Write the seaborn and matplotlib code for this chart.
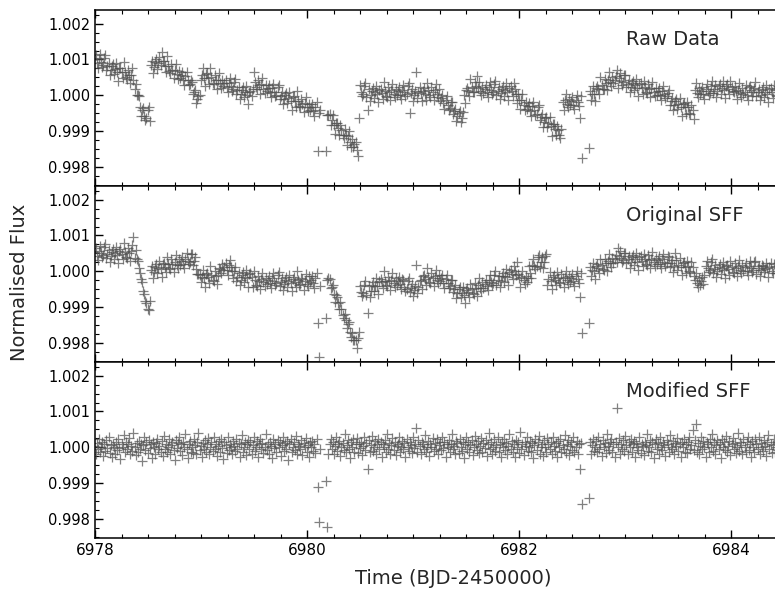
import numpy as np
import pandas as pd
import matplotlib
matplotlib.use("Agg")
import matplotlib.pyplot as plt
from matplotlib.ticker import MultipleLocator, AutoMinorLocator, FormatStrFormatter
import seaborn as sns

# ---------------- data (flux deviations from 1.0, in units of 1e-5) ----------------
t_start = 6977.995          # BJD-2450000 of first sample
cadence = 0.010215          # sampling step (days)

raw_dev = [
    # 0-51
    103, 113, 91, 77, 102, 115, 93, 80, 85, 104,
    112, 72, 81, 91, 56, 71, 83, 88, 60, 73,
    91, 66, 41, 75, 77, 64, 47, 92, 65, 50,
    46, 72, 57, 33, 58, 75,
    42, 19, 31, 2, 0, -1, -33, -58, -42,
    -36, -57, -68, -62, -41, -32, -71,
    # 52-97
    84, 95, 62, 79, 92, 100, 73, 89,
    108, 85, 120, 95, 97, 83, 65, 110, 82, 67,
    62, 87, 72, 47, 72, 88, 59, 46, 68, 49,
    57, 66, 44, 29, 54, 66, 43, 30, 31,
    42, 38, 3, 9, 16, -22, -11, -2, 0,
    # 98-145
    43, 57,
    75, 49, 25, 59, 62, 48, 31, 77, 50, 35,
    31, 57, 43, 19, 44, 61, 33, 21, 43, 25,
    34, 44, 23, 8, 34, 47, 25, 12, 17, 37,
    45, 4, 14, 24, -10, 5, 16, 22, -6, 8,
    25, 0, -24, 10, 12, -1,
    # 146-205
    18, 64, 36, 22,
    18, 44, 29, 5, 31, 47, 19, 7, 29, 11,
    20, 30, 8, -6, 20, 32, 10, -2, 2, 22,
    30, -10, -1, 9, -25, -11, 1, 7, -22, -8,
    10, -16, -40, -6, -3, -17, -34, 12, -16, -30,
    -34, -9, -23, -47, -21, -5, -33, -45, -23, -41,
    -32, -23, -44, -58, -32, -20,
    # 206-215
    -154, -50, -42, None, None, None, None, None, -154, -55,
    # 216-244
    -55, -51, -82, -70,
    -54, -82, -108, -76, -76, -91, -110, -82, -96, -112,
    -119, -95, -111, -138, -114, -99, -130, -144, -123, -144,
    -137, -129, -153, -169, -64,
    # 245-318
    30, 9, -2, 4, 25,
    34, -5, -42, 17, -16, 0, 13, 20, -7, 8,
    27, 3, -20, 15, 19, 7, -9, 38, 12, -1,
    -4, 23, 10, -13, 14, 32, 5, -6, 18, 1,
    11, 22, 2, -11, 16, 30, 9, -2, 4, 25,
    34, -50, 6, 17, -16, 0, 13, 66, -7, 8,
    24, 6, -17, 12, 21, 4, -12, 33, 14, 2,
    -4, 23, 10, -13, 14, 32, 5, -6, 18,
    # 319-340
    -15,
    -8, 1, -22, -38, -14, -2, -26, -40, -36, -18,
    -20, -53, -45, -37, -73, -59, -49, -45, -74, -62,
    -46,
    # 341-403
    0, -21, 16, 21, 11, -3, 46, 22, 10,
    9, 38, 27, 55, 20, 38, 11, 0, 24, 7,
    17, 28, 8, -5, 22, 36, 15, 4, 10, 31,
    40, 1, 12, 23, -10, 6, 19, 26, -1, 14,
    33, 9, -14, 21, 25, 13, -3, 34, 18, 5,
    -22, 3, -13, -38, -13, 3, -27, -40, -18, -38,
    -30, -21, -44, -59,
    # 404-431
    -30, -19, -42, -56, -52, -34,
    -28, -69, -61, -52, -88, -75, -64, -60, -89, -77,
    -61, -87, -113, -80, -79, -94, -112, -85, -96, -112,
    -118, -93,
    # 432-449
    -18, -41, -14, 4, -23, -34, -10, -27,
    -17, -6, -26, -39, -12, 2, -19, -30, -64, -3,
    # 450-456
    -175, None, None, None, None, None, -148,
    # 457-553
    12, -13, 4,
    26, 4, -17, 20, 26, 17, 3, 52, 28, 17,
    17, 46, 35, 14, 43, 64, 37, 26, 50, 33,
    43, 54, 70, 21, 48, 62, 41, 30, 36, 57,
    58, 22, 32, 42, 8, 23, 35, 41, 14, 28,
    46, 21, -3, 31, 34, 21, 4, 40, 23, 9,
    6, 32, 18, -6, 20, 37, 9, -3, 20, 2,
    11, 21, 0, -13, 13, 26, 4, -8, -3, 7,
    15, -26, -16, -7, -41, -27, -15, -10, -38, -25,
    -7, -33, -57, -23, -21, -34, -52, -20, -34, -48,
    -53, -27, -42, -66,
    # 554-631
    16, 34, 7, -4, 20, 3,
    13, 24, 4, -9, 18, 32, 11, 0, 6, 27,
    40, 7, 18, 29, -4, 12, 25, 32, 5, 20,
    39, 15, -8, 27, 31, 19, 3, 40, 24, 11,
    8, 25, 12, -11, 16, 34, 7, -4, 20, 3,
    9, 28, 1, -12, 22, 26, 14, -3, 10, 20,
    36, -3, 8, 19, -14, 2, 15, 22, -5, 10,
    29, 5, -18, 17, 21, 9, -7, 30, 14, 1,
    -2, 25,
]

orig_sff_dev = [
    # 0-51
    53, 64, 44, 31, 58, 72, 51, 40, 46, 67,
    76, 37, 48, 59, 26, 42, 55, 62, 35, 50,
    69, 45, 22, 57, 61, 49, 33, 80, 54, 41,
    38, 65, 52, 29, 56, 74, 95, 36, 60,
    33, 28, 8, -5, -22, -30, -55, -62, -84, -88, -104, -109, -82,
    # 52-97
    3, 15, -18, -1, 13, 21, -6, 10,
    30, 6, -16, 20, 24, 13, -2, 40, 20, 8,
    6, 33, 21, -1, 26, 45, 19, 9, 33, 17,
    28, 39, 20, 8, 35, 50, 30, 20, 26, 47,
    48, 17, 28, 39, 6, -8, -7, -10,
    # 98-145
    -30, -15,
    4, -20, -43, -8, -4, -16, -32, 15, -11, -24,
    -27, 0, -13, -36, -9, 9, 7, -4, 20, 3,
    13, 24, 4, -9, 18, 32, 11, 0, -19, 2,
    11, -28, -17, -6, -39, -23, -10, -3, -30, -15,
    4, -20, -43, -8, -4, -16,
    # 146-205
    -45, 2, -24, -37,
    -40, -13, -26, -49, -22, -4, -31, -42, -18, -35,
    -25, -14, -34, -47, -20, -6, -27, -38, -32, -11,
    -2, -41, -30, -19, -52, -36, -23, -16, -43, -28,
    -9, -33, -56, -21, -17, -29, -45, 2, -24, -37,
    -36, -18, -22, -52, -26, -8, -35, -40, -14, -31,
    -25, -14, -34, -47, -20, -6,
    # 206-215
    -145, -240, -40, None, None, None, None, None, -129, -25,
    # 216-244
    -18, -21, -46, -44,
    -38, -62, -85, -67, -72, -88, -106, -86, -105, -122,
    -131, -120, -136, -159, -148, -142, -168, -183, -173, -193,
    -193, -192, -214, -185, -170,
    # 245-318
    -40, -59, -69, -61, -39,
    -28, -65, -115, -40, -72, -54, -39, -31, -56, -40,
    -19, -41, -63, -26, -21, -31, -47, 0, -26, -39,
    -42, -15, -28, -51, -24, -6, -33, -44, -20, -37,
    -27, -16, -36, -49, -22, -23, -44, -55, -49, -28,
    -19, -58, -47, -36, -69, -53, -40, 17, -60, -45,
    -26, -25, -48, -13, -9, -21, -37, 10, -16, -29,
    -32, -5, -18, -41, -14, 4, -23, -34, -10,
    # 319-340
    -27,
    -19, -10, -32, -47, -22, -10, -33, -46, -42, -23,
    -25, -57, -48, -39, -74, -60, -49, -44, -73, -60,
    -43,
    # 341-403
    -67, -89, -52, -47, -58, -73, -35, -49, -61,
    -63, -34, -46, -68, -39, -20, -46, -56, -30, -46,
    -35, -23, -41, -53, -25, -10, -29, -39, -32, -9,
    1, -37, -25, -12, -44, -27, -13, -4, -30, -14,
    7, -16, -38, -2, 4, -7, -22, 15, 2, -10,
    25, -7, -20, -43, -16, 2, -25, -36, -12, -29,
    -19, 14, -6, -19,
    # 404-431
    18, 34, 16, 7, 15, 39,
    45, 13, 26, 40, 9, 27, 43, 48, -37, -22,
    -3, -27, -50, -15, -11, -23, -39, -2, -18, -31,
    -34, -7,
    # 432-449
    -20, -43, -16, 2, -25, -36, -12, -29,
    -19, -8, -28, -41, -14, 0, -21, -32, -72, -5,
    # 450-456
    -173, None, None, None, None, None, -145,
    # 457-553
    12, -14, 3,
    23, 0, -22, 15, 20, 9, -5, 35, 18, 7,
    5, 33, 22, 0, 28, 47, 22, 12, 37, 22,
    33, 45, 27, 64, 43, 58, 37, 26, 32, 52,
    50, 22, 33, 43, 10, 26, 39, 45, 18, 33,
    52, 27, 4, 39, 43, 30, 14, 48, 35, 21,
    18, 45, 32, 9, 35, 53, 26, 15, 38, 21,
    31, 42, 21, 8, 35, 49, 27, 16, 22, 43,
    40, 12, 22, 32, -1, 14, 50, 32, 5, 19,
    37, 12, -11, 23, 26, 13, -4, 30, 16, 2,
    -2, 25, 11, -13,
    # 554-631
    -24, -6, -33, -44, -20, -37,
    -27, -16, -36, -11, 16, 30, 9, -2, 4, 25,
    34, -5, 6, 17, -16, 0, 13, 20, -7, 8,
    27, 3, -20, 15, 19, 7, -9, 28, 12, -1,
    -4, 23, 10, -13, 14, 32, 5, -6, 18, 1,
    11, 22, 2, -11, 16, 30, 9, -2, 4, 25,
    30, -8, 10, 14, -12, 4, 18, 16, -2, 6,
    22, 8, -15, 12, 24, 2, -6, 20, 15, -4,
    -4, 23,
]

mod_sff_dev = [
    5, -18, 12, -6, 24, -12, 0, 15, -25, 8,
    -10, 20, -3, 30, -15, 6, -28, 10, 2, -20,
    14, -8, 22, -2, -32, 10, 0, 35, -12, 16,
    -6, 8, 26, -18, 4, -10, 40, 2, -22, 12,
    -14, 18, -4, 10, -38, 6, 28, -8, 14, -16,
    20, -2, 8, -30, 16, 0, -20, 12, 24, -6,
    4, -12, 18, -24, 32, -4, 10, -14, 2, 22,
    -18, 6, 14, -8, -35, 20, -2, 12, 28, -10,
    8, -22, 16, 0, 36, -6, -30, 10, 18, -12,
    2, -16, 24, 6, -20, 14, 40, -8, 4, -26,
    12, -4, 20, -14, 8, 26, -18, 0, 16, -10,
    30, -6, 10, -24, 4, 18, -12, 22, -2, -34,
    14, 6, -16, 28, -8, 10, 0, -20, 18, 4,
    -10, 24, -4, 12, -28, 8, 34, -14, 2, 16,
    -22, 10, 20, -6, 14, -18, 6, 30, -10, 0,
    18, -26, 8, 22, -4, 12, -16, 2, 36, -8,
    10, -20, 16, 4, -30, 24, -2, 8, -12, 20,
    0, 14, -24, 6, 28, -10, 12, -4, 18, -36,
    8, 22, -14, 2, 16, -8, 32, -18, 10, 4,
    -6, 20, -22, 12, 0, 26, -12, 6, -28, 14,
    2, 18, -10, 8, -16, 22,
    -110, -208, -5, None, None, None, None, None, -94, -222,
    -20, 10, 24, -6, 14, -18, 4, 30, -10, 8,
    18, -24, 2, 12, -8, 36, -14, 6, 20, -4,
    -30, 14, 0, 22, -12, 8, 26, -16, 10, -2,
    16, -22, 4, 28, -8, 12, -60, 20, -14, 6,
    32, -10, 0, 18, -20, 10, 24, -6, 14, -26,
    8, 2, 20, -12, 38, -4, 12, -18, 6, 26,
    -8, 16, -22, 4, 10, 30, -14, 0, 18, -6,
    12, -28, 22, 2, -10, 14, 6, -16, 28, -2,
    10, 55, -12, 20, 4, -20, 16, 8, -6, 34,
    -14, 2, 18, -24, 10, 0, 26, -10, 12, -4,
    22, -18, 6, 14, -8, 30, -2, 16, -26, 8,
    0, 20, -12, 10, 36, -6, 4, -20, 18, 12,
    -16, 24, 2, -10, 14, -30, 8, 28, -4, 16,
    -12, 6, 20, -22, 0, 32, 10, -8, 18, -16,
    4, 26, -14, 12, -2, 20, -24, 8, 40, -6,
    14, -18, 2, 22, -10, 6, 30, -14, 10, -28,
    16, 0, 24, -8, 12, -20, 4, 36, -4, 18,
    -12, 8, -26, 20, 2, 14, -16, 44, -6, 10,
    -22, 16, 4, 28, -10, 0, 18, -14, 12, -30,
    6, 22, -8, 14, 32, -18, 2, 10, -24, 20,
    0, -12, 26, 8, -6, 16, -20, 30, 4, -10,
    12, -28, 18, 2, 24, -14, 6, -4, 34, -16,
    10, 20, -22, 4, 14, -8, 28, -12, 0, 18,
    -18, 8, -60, 12,
    -158, None, None, None, None, None, -141,
    14, -20, 6, 24, -10, 2, 18, -14, 30, -6,
    10, -24, 20, 0, 12, -16, 36, 4, -8, 16,
    22, -12, 8, -28, 14, 111, 2, 26, -18, 10,
    -4, 20, -10, 32, 6, -20, 14, 0, 24, -14,
    8, 18, -26, 12, 2, -8, 28, -16, 10, 4,
    -22, 16, 6, 38, -10, 0, 20, -12, 14, -30,
    8, 24, -4, 12, -18, 30, 2, -8, 16, 6,
    -24, 20, 10, -14, 34, 0, -6, 18, -20, 12,
    4, 26, -10, 8, -28, 16, 2, 22, -12, 10,
    -16, 14, 30, -4, 6, 49, -8, 20, 66, -14,
    12, -20, 4, 28, -6, 18, 0, -26, 14, 8,
    -12, 24, 2, 36, -10, 16, -18, 6, 20, -4,
    10, -30, 22, 0, 14, -8, 32, -14, 4, 18,
    -22, 8, 26, -6, 12, -16, 2, 40, -10, 16,
    6, -20, 24, 0, -12, 14, 30, -8, 10, -26,
    18, 2, -14, 22, 8, -4, 28, -18, 12, 0,
    -10, 20, 4, -24, 16, 34, -6, 10, -16, 6,
    24, -12, 2, 14, -8,
]

panel_titles = ["Raw Data", "Original SFF", "Modified SFF"]
x_label = "Time (BJD-2450000)"
y_label = "Normalised Flux"

# ---------------- build tables ----------------
def to_frame(dev):
    arr = np.array([np.nan if v is None else v for v in dev], dtype=float)
    t = t_start + cadence * np.arange(len(arr))
    return pd.DataFrame({"time": t, "flux": 1.0 + arr * 1e-5}).dropna()

frames = [to_frame(raw_dev), to_frame(orig_sff_dev), to_frame(mod_sff_dev)]

# ---------------- style ----------------
sns.set_style("ticks")
plt.rcParams["font.family"] = ["DejaVu Sans"]

W, H = 775, 597
fig = plt.figure(figsize=(W / 100, H / 100), dpi=100)

left_px, right_px = 95, 812
top_px, bot_px = 10, 538
ph = (bot_px - top_px) / 3.0

axes = []
for k in range(3):
    y_top = top_px + k * ph
    rect = [left_px / W, 1 - (y_top + ph) / H, (right_px - left_px) / W, ph / H]
    ax = fig.add_axes(rect, sharex=axes[0] if axes else None)
    axes.append(ax)

mcolor = "#505050"
for k, ax in enumerate(axes):
    sns.scatterplot(data=frames[k], x="time", y="flux", marker="+", s=54,
                    color=mcolor, linewidth=0.9, alpha=0.72, ax=ax, legend=False)
    ax.set_xlim(6978.0, 6984.76)
    ax.set_ylim(0.99747, 1.00238)
    ax.xaxis.set_major_locator(MultipleLocator(2))
    ax.xaxis.set_minor_locator(MultipleLocator(0.25))
    ax.yaxis.set_major_locator(MultipleLocator(0.001))
    ax.yaxis.set_minor_locator(AutoMinorLocator(4))
    ax.yaxis.set_major_formatter(FormatStrFormatter("%.3f"))
    ax.tick_params(which="both", direction="in", top=True, right=True, colors="black")
    ax.tick_params(which="major", length=6, width=1.0)
    ax.tick_params(which="minor", length=3, width=0.8)
    ax.tick_params(axis="y", labelsize=10.5)
    ax.tick_params(axis="x", labelsize=11)
    for sp in ax.spines.values():
        sp.set_linewidth(1.1)
        sp.set_color("black")
    ax.set_ylabel("")
    ax.set_xlabel("")
    ax.text(0.741, 0.835, panel_titles[k], transform=ax.transAxes,
            ha="left", va="center", fontsize=14)
    if k < 2:
        ax.tick_params(axis="x", labelbottom=False)

axes[2].set_xlabel(x_label, fontsize=14, labelpad=8)
fig.text(20 / W, 1 - 282 / H, y_label, rotation=90, ha="center", va="center", fontsize=14)

fig.savefig("out.png", dpi=100)
